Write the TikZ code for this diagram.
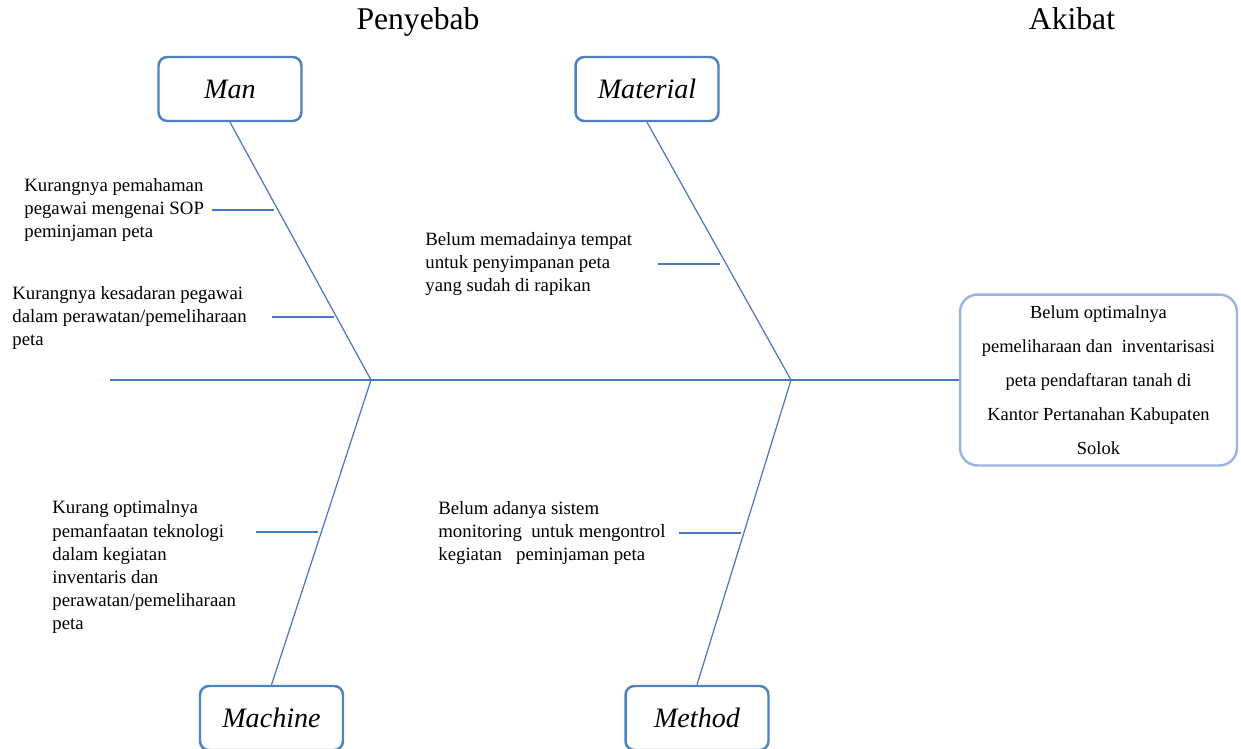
\documentclass[tikz,border=0pt]{standalone}
\usepackage{fontspec}
\setmainfont{Liberation Serif}
\usetikzlibrary{calc,positioning}
\definecolor{bone}{HTML}{4A78BE}
\definecolor{boxline}{HTML}{4F81BD}
\definecolor{effline}{HTML}{9DB5DE}

\begin{document}
\begin{tikzpicture}[x=0.02cm, y=-0.02cm,
      every node/.style={font=\fontsize{10.7}{13.1}\selectfont},
      bone/.style={draw=bone, line width=0.7pt},
      catbox/.style={draw=boxline, line width=1.4pt, rounded corners=5pt,
                     fill=white, minimum width=2.86cm, minimum height=1.28cm,
                     font=\fontsize{16}{19}\selectfont\itshape},
      cause/.style={align=left, inner sep=0pt, anchor=west},
      headline/.style={font=\fontsize{18}{22}\selectfont, anchor=base}
  ]
    \useasboundingbox (0,0) rectangle (1241,748);

    % ---- Headings ----
    \node[headline] (penyebab) at (418, 29) {Penyebab};
    \node[headline] (akibat) at (1072, 29) {Akibat};

    % ---- Category boxes ----
    \node[catbox] (man) at (230, 89) {Man};
    \node[catbox] (material) at (647, 89) {Material};
    \node[catbox] (machine) at (271.5, 718) {Machine};
    \node[catbox] (method) at (697, 718) {Method};

    % ---- Effect box ----
    \node[draw=effline, line width=1.4pt, rounded corners=10pt,
          minimum width=5.54cm, minimum height=3.42cm, align=center,
          font=\fontsize{10.5}{19.4}\selectfont] (effect) at (1098.5, 380) {%
      Belum optimalnya\\
      pemeliharaan dan\ \ inventarisasi\\
      peta pendaftaran tanah di\\
      Kantor Pertanahan Kabupaten\\
      Solok};

    % ---- Spine and bones ----
    \coordinate (tail) at (110, 380);
    \coordinate (j1) at (371, 380);
    \coordinate (j2) at (791, 380);
    \draw[bone] (tail) -- (effect.west);
    \draw[bone] (man.south) -- (j1);
    \draw[bone] (material.south) -- (j2);
    \draw[bone] (machine.north) -- (j1);
    \draw[bone] (method.north) -- (j2);

    % ---- Sub-bones ----
    \coordinate (b1) at (274, 210);
    \coordinate (b2) at (334, 317);
    \coordinate (b3) at (720, 264);
    \coordinate (b4) at (318, 532);
    \coordinate (b5) at (741, 533);
    \foreach \b in {b1, b2, b3, b4, b5} {
      \draw[bone] (\b) -- ++(-62, 0);
    }

    % ---- Causes ----
    \node[cause] (c1) at (24, 210) {Kurangnya pemahaman\\
      pegawai mengenai SOP\\ peminjaman peta};
    \node[cause] (c2) at (12, 318) {Kurangnya kesadaran pegawai\\
      dalam perawatan/pemeliharaan\\ peta};
    \node[cause] (c3) at (425, 264) {Belum memadainya tempat\\
      untuk penyimpanan peta\\ yang sudah di rapikan};
    \node[cause] (c4) at (52, 567) {Kurang optimalnya\\
      pemanfaatan teknologi\\ dalam kegiatan\\ inventaris dan\\
      perawatan/pemeliharaan\\ peta};
    \node[cause] (c5) at (438, 533) {Belum adanya sistem\\
      monitoring\ \ untuk mengontrol\\ kegiatan\ \ \ peminjaman peta};

  \end{tikzpicture}
\end{document}
